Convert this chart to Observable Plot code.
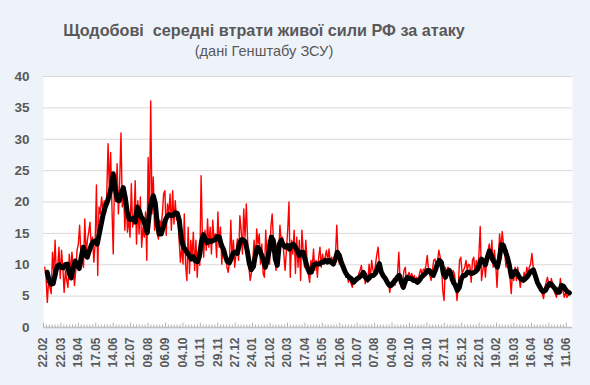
<!DOCTYPE html>
<html>
<head>
<meta charset="utf-8">
<script src="https://cdn.jsdelivr.net/npm/d3@7"></script>
<script src="https://cdn.jsdelivr.net/npm/@observablehq/plot@0.6"></script>
<style>
  body { margin: 0; }
  #wrap { position: relative; width: 590px; height: 385px; background: #eef3fa; overflow: hidden; }
  #chart { position: absolute; left: 0; top: 0; }
  .ttl { position: absolute; left: 0; width: 528px; text-align: center; color: #595959; font-family: 'Liberation Sans', Arial, sans-serif; white-space: pre; line-height: 1; }
  #title { top: 22px; font-size: 16.2px; font-weight: bold; }
  #sub { top: 44px; font-size: 14.6px; }
</style>
</head>
<body>
<div id="wrap">
  <div id="chart"></div>
  <div class="ttl" id="title">Щодобові  середні втрати живої сили РФ за атаку</div>
  <div class="ttl" id="sub">(дані Генштабу ЗСУ)</div>
</div>
<script>
// x tick labels, every 28 days starting 22.02.2023
const xLabels = ["22.02","22.03","19.04","17.05","14.06","12.07","09.08","06.09","04.10","01.11",
  "29.11","27.12","24.01","21.02","20.03","17.04","15.05","12.06","10.07","07.08",
  "04.09","02.10","30.10","27.11","25.12","22.01","19.02","19.03","16.04","14.05","11.06"];
const yTicks = [0, 5, 10, 15, 20, 25, 30, 35, 40];

// daily losses per attack (red) (~every 2 days)
const dailyLosses = [
  9.6, 8.0, 4.0, 7.5, 6.4, 5.4, 12.0, 8.6, 13.9, 8.0,
  9.6, 12.8, 7.8, 12.3, 9.6, 5.6, 9.1, 7.5, 6.4, 11.7,
  8.6, 12.0, 10.1, 6.7, 9.1, 12.3, 13.3, 16.3, 11.7, 10.7,
  9.6, 17.3, 11.7, 13.9, 15.2, 16.8, 12.8, 14.4, 10.4, 13.3,
  22.7, 8.3, 19.2, 18.1, 20.8, 18.6, 20.2, 18.1, 21.3, 29.3,
  21.8, 27.9, 19.2, 11.7, 24.0, 20.2, 26.1, 18.1, 23.4, 31.0,
  19.2, 21.8, 15.5, 20.8, 15.2, 17.6, 14.4, 22.9, 16.0, 17.1,
  23.4, 13.3, 20.2, 14.9, 20.8, 12.8, 16.0, 14.4, 18.4, 10.7,
  27.1, 16.5, 36.1, 18.1, 24.0, 15.5, 19.2, 14.9, 14.1, 17.1,
  16.0, 18.1, 21.3, 21.8, 14.7, 19.7, 18.1, 21.3, 15.5, 21.8,
  16.5, 20.2, 17.1, 18.1, 13.9, 10.4, 12.8, 10.1, 18.1, 9.9,
  7.5, 16.0, 8.6, 13.9, 11.2, 15.2, 9.1, 13.9, 8.0, 12.3,
  9.9, 24.2, 14.4, 11.2, 15.5, 12.3, 17.3, 12.8, 16.0, 11.7,
  17.1, 13.9, 14.9, 11.2, 18.4, 12.8, 16.0, 10.1, 13.3, 11.7,
  12.3, 9.6, 8.8, 10.7, 17.1, 10.7, 13.9, 9.6, 11.7, 14.1,
  10.7, 17.8, 15.5, 11.7, 18.9, 14.4, 19.7, 13.9, 9.6, 7.5,
  8.8, 10.7, 13.9, 9.6, 15.7,
  13.3, 14.9, 10.1, 13.3, 8.6, 8.0, 15.5, 11.2, 13.9, 10.1,
  16.0, 18.1, 13.9, 11.2, 9.1, 13.3, 11.7, 16.3, 13.9, 14.4,
  11.7, 9.1, 12.3, 15.5, 20.0, 8.0, 13.9, 11.7, 15.5, 8.6,
  14.4, 9.6, 13.9, 7.5, 15.5, 12.3, 9.6, 13.9, 10.9, 8.6,
  7.2, 10.7, 9.6, 12.5, 9.1, 10.7, 8.0, 11.2, 12.8, 9.6,
  11.7, 10.1, 11.2, 12.3, 10.7, 12.5, 10.1, 11.2, 10.4, 10.9,
  11.7, 16.3, 11.2, 10.1, 11.7, 10.4, 9.1, 9.6, 8.0, 8.6,
  7.2, 8.0, 7.0, 6.4, 7.8, 7.0, 8.0, 7.5, 8.6, 9.1,
  9.9, 8.0, 9.1, 7.0,
  8.6, 7.2, 10.1, 7.8, 10.7, 9.1, 8.6, 10.1, 11.7, 12.8,
  9.9, 9.1, 8.6, 7.8, 8.0, 7.5, 7.8, 7.2, 5.6, 7.0,
  7.2, 7.8, 6.7, 7.5, 8.6, 12.0, 7.5, 6.4, 7.2, 9.1,
  9.6, 7.0, 8.3, 8.8, 7.8, 8.6, 7.8, 8.3, 7.5, 8.0,
  7.5, 8.6, 9.3, 8.3, 9.3, 9.1, 9.9, 11.5, 9.1, 8.3,
  7.5, 9.1, 10.7, 10.9, 9.9, 10.7, 12.3, 11.2, 10.1, 5.9,
  4.3, 9.6, 8.6, 9.6, 9.3, 7.5, 8.0, 9.1, 8.6, 7.0,
  4.3, 6.4, 10.7, 11.2, 8.6, 9.1, 9.6, 10.7, 9.1, 10.1,
  9.9, 7.2, 10.7, 11.2, 8.6, 10.7, 9.1, 11.7, 16.1, 7.5,
  9.1, 10.7, 8.0, 10.7, 12.3, 13.3, 10.7, 13.9, 9.6, 12.3,
  10.1, 6.4, 10.7, 14.9, 12.3, 15.3, 13.3, 11.7, 9.6, 12.3,
  9.6, 8.0, 5.4, 9.1, 7.5, 9.6, 7.5, 9.6, 8.0, 6.4,
  8.0, 7.5, 8.8, 7.8, 9.6, 8.6, 9.6, 10.1, 11.8, 9.6,
  8.6, 8.0, 7.0, 6.4, 6.4, 5.9, 5.4, 4.6, 6.4, 7.2,
  8.0, 7.0, 6.4, 7.8, 7.0, 5.9, 5.4, 4.8, 6.4, 5.4,
  7.8, 6.4, 5.9, 4.8, 5.6, 4.8, 5.1, 5.4
];
const dailyFirstDay = 2, dailyLastDay = 845;

// moving average (black) (~every 3 days)
const avgLosses = [
  8.8, 7.4, 6.9, 7.0, 8.5, 9.8, 10.0, 9.6, 9.5, 10.0, 10.1, 8.6, 7.9, 9.6, 10.6, 9.9, 9.4, 11.2, 12.8, 11.6,
  11.2, 12.2, 13.1, 13.7, 13.8, 13.3, 14.9, 16.5, 18.1, 19.2, 20.0, 21.0, 22.4, 24.5, 22.1, 20.3, 20.2, 21.4, 22.3, 20.7,
  18.4, 17.3, 17.2, 17.4, 16.8, 19.2, 18.6, 17.6, 17.2, 16.2, 15.1,
  18.1, 20.0, 21.0, 19.8, 16.5, 14.9, 14.9, 16.0, 17.1, 17.7, 18.0, 17.8, 17.9, 18.3, 18.2, 17.1, 14.2, 12.9, 12.4, 11.9,
  11.5, 10.9, 11.3, 10.6, 10.5, 11.2, 13.5, 14.8, 14.2, 13.5, 13.8, 13.7, 13.9, 14.0, 14.5, 14.4, 13.2, 12.5, 11.4, 10.5,
  10.3, 11.0, 11.9, 12.0, 11.8, 13.2, 14.0, 14.0, 13.6, 12.2, 10.2, 9.2, 9.7, 11.4,
  12.8, 12.5, 11.7, 10.7, 9.6, 10.7, 12.3, 14.4, 13.9, 10.9, 9.9, 13.3, 13.9, 13.1, 12.8, 13.1, 12.5, 13.1, 13.3, 12.8,
  12.3, 11.5, 12.0, 12.0, 10.7, 9.6, 8.8, 8.8, 9.9, 10.1, 10.1, 10.1, 10.4, 10.4, 10.7, 10.4, 10.7, 10.4, 10.1, 10.9,
  12.0, 11.5, 10.4, 9.6, 8.8, 8.3, 8.0, 7.8, 7.2, 7.5, 7.8, 8.0, 8.3, 8.8,
  8.0, 7.6, 7.9, 8.3, 8.3, 8.6, 9.3, 10.2, 8.8, 8.2, 7.8, 7.2, 6.7, 6.7,
  7.2, 7.5, 8.0, 8.3, 7.2, 6.4, 7.5, 8.0, 7.8, 7.8, 7.5, 7.5, 7.2, 7.5, 8.0, 8.3, 8.6, 9.1, 9.1, 8.6,
  8.3, 9.1, 10.1, 10.7, 10.4, 8.6, 8.0, 8.8, 9.1, 8.3, 7.2, 6.7, 5.9, 6.4, 7.8, 8.3, 8.3, 8.8,
  8.8, 8.6, 8.7, 8.9, 9.2, 10.0, 10.9, 10.6, 10.0, 11.2, 12.2, 11.5, 10.6, 10.2, 9.6, 11.0, 13.2, 13.1, 12.1, 11.2,
  9.9, 8.1, 8.4, 9.0, 8.6, 8.0, 7.7, 7.5, 7.8, 8.1, 8.6, 9.0, 9.2, 8.2, 7.2, 6.6, 6.0, 5.7, 5.9, 6.5,
  7.0, 6.9, 6.5, 6.1, 5.6, 5.6, 6.7, 6.6, 6.1, 5.7, 5.5
];
const avgFirstDay = 6, avgLastDay = 845;

const spread = (vals, a, b) => vals.map((v, i) => ({day: a + i * (b - a) / (vals.length - 1), v}));
const redData = spread(dailyLosses, dailyFirstDay, dailyLastDay);
const avgData = spread(avgLosses, avgFirstDay, avgLastDay);

const labelDays = xLabels.map((_, i) => i * 28);
const minorDays = d3.range(0, 30 * 6 + 1).map(i => i * 28 / 6);

const chart = Plot.plot({
  width: 590,
  height: 385,
  marginLeft: 43,
  marginRight: 18,
  marginTop: 76,
  marginBottom: 58,
  style: {background: "transparent", color: "#595959", fontFamily: "'Liberation Sans', Arial, sans-serif", fontSize: "13px"},
  x: {type: "linear", domain: [0, 850], label: null},
  y: {domain: [0, 40], label: null},
  marks: [
    Plot.frame({fill: "white", stroke: null}),
    Plot.ruleY(yTicks.filter(d => d > 0), {stroke: "#d9d9d9", strokeWidth: 1}),
    Plot.ruleX(minorDays, {x: d => d, y1: 0, y2: (d, i) => (i % 6 === 0 ? 0.7 : 0.4), stroke: "#b3b3b3", strokeWidth: 1}),
    Plot.ruleY([0], {stroke: "#c0c0c0", strokeWidth: 1.5}),
    Plot.line(redData, {x: "day", y: "v", stroke: "#ff0000", strokeWidth: 1.4}),
    Plot.line(avgData, {x: "day", y: "v", stroke: "#000000", strokeWidth: 5, strokeLinejoin: "round", strokeLinecap: "round"}),
    Plot.axisY({ticks: yTicks, tickSize: 0, tickPadding: 14, fontSize: 13.5, fontWeight: "bold", label: null}),
    Plot.axisX({ticks: labelDays, tickSize: 0, tickPadding: 10, tickRotate: -90, fontSize: 12, fontWeight: "bold", label: null,
      tickFormat: d => xLabels[Math.round(d / 28)]})
  ]
});
document.getElementById("chart").appendChild(chart);
</script>
</body>
</html>
